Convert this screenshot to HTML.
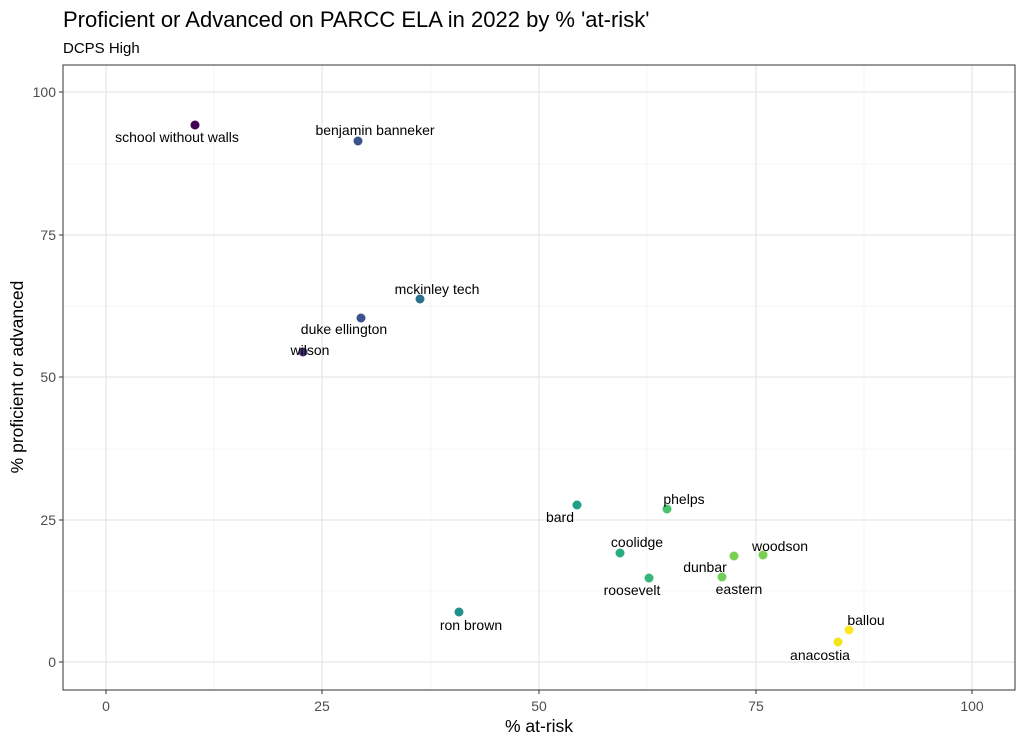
<!DOCTYPE html>
<html><head><meta charset="utf-8"><style>
body{margin:0;background:#fff;}
svg text{font-family:"Liberation Sans",Arial,sans-serif;}
</style></head><body>
<svg width="1024" height="744" viewBox="0 0 1024 744" xmlns="http://www.w3.org/2000/svg">
<rect width="1024" height="744" fill="#fff"/>
<text x="63" y="27" font-size="22" fill="#000">Proficient or Advanced on PARCC ELA in 2022 by % 'at-risk'</text>
<text x="63" y="53" font-size="15" fill="#000">DCPS High</text>
<g stroke="#f0f0f0" stroke-width="0.7">
<line x1="63" x2="1015" y1="591" y2="591"/>
<line x1="63" x2="1015" y1="449" y2="449"/>
<line x1="63" x2="1015" y1="306" y2="306"/>
<line x1="63" x2="1015" y1="164" y2="164"/>
<line y1="65" y2="690" x1="214" x2="214"/>
<line y1="65" y2="690" x1="431" x2="431"/>
<line y1="65" y2="690" x1="647" x2="647"/>
<line y1="65" y2="690" x1="864" x2="864"/>
</g>
<g stroke="#e6e6e6" stroke-width="1.2">
<line x1="63" x2="1015" y1="662" y2="662"/>
<line x1="63" x2="1015" y1="520" y2="520"/>
<line x1="63" x2="1015" y1="377" y2="377"/>
<line x1="63" x2="1015" y1="235" y2="235"/>
<line x1="63" x2="1015" y1="92" y2="92"/>
<line y1="65" y2="690" x1="106" x2="106"/>
<line y1="65" y2="690" x1="322" x2="322"/>
<line y1="65" y2="690" x1="539" x2="539"/>
<line y1="65" y2="690" x1="756" x2="756"/>
<line y1="65" y2="690" x1="972" x2="972"/>
</g>
<rect x="63" y="65" width="952" height="625" fill="none" stroke="#333" stroke-width="1"/>
<g stroke="#333"><line x1="59" x2="63" y1="662" y2="662"/><line x1="59" x2="63" y1="520" y2="520"/><line x1="59" x2="63" y1="377" y2="377"/><line x1="59" x2="63" y1="235" y2="235"/><line x1="59" x2="63" y1="92" y2="92"/>
<line y1="690" y2="694" x1="106" x2="106"/><line y1="690" y2="694" x1="322" x2="322"/><line y1="690" y2="694" x1="539" x2="539"/><line y1="690" y2="694" x1="756" x2="756"/><line y1="690" y2="694" x1="972" x2="972"/></g>
<g font-size="14" fill="#4d4d4d" text-anchor="end">
<text x="56" y="667">0</text><text x="56" y="525">25</text><text x="56" y="382">50</text><text x="56" y="240">75</text><text x="56" y="97">100</text></g>
<g font-size="14" fill="#4d4d4d" text-anchor="middle">
<text x="106" y="711">0</text><text x="322" y="711">25</text><text x="539" y="711">50</text><text x="756" y="711">75</text><text x="972" y="711">100</text></g>
<text x="539" y="732" font-size="17.5" text-anchor="middle">% at-risk</text>
<text transform="translate(23,377) rotate(-90)" font-size="17.5" text-anchor="middle">% proficient or advanced</text>
<g>
<circle cx="195" cy="125" r="4.5" fill="#440154"/>
<circle cx="358" cy="141" r="4.5" fill="#3b528b"/>
<circle cx="420" cy="299" r="4.5" fill="#2c728e"/>
<circle cx="361" cy="318" r="4.5" fill="#3b528b"/>
<circle cx="303" cy="352" r="4.5" fill="#472d7b"/>
<circle cx="577" cy="505" r="4.5" fill="#1fa187"/>
<circle cx="667" cy="509" r="4.5" fill="#4ac16d"/>
<circle cx="620" cy="553" r="4.5" fill="#27ad81"/>
<circle cx="649" cy="578" r="4.5" fill="#35b779"/>
<circle cx="459" cy="612" r="4.5" fill="#21908d"/>
<circle cx="734" cy="556" r="4.5" fill="#7ad151"/>
<circle cx="763" cy="555" r="4.5" fill="#7ad151"/>
<circle cx="722" cy="577" r="4.5" fill="#6ece58"/>
<circle cx="849" cy="630" r="4.5" fill="#fde725"/>
<circle cx="838" cy="642" r="4.5" fill="#f1e51d"/>
</g>
<g font-size="14" fill="#000">
<text x="177" y="142" text-anchor="middle">school without walls</text>
<text x="375" y="135" text-anchor="middle">benjamin banneker</text>
<text x="437" y="294" text-anchor="middle">mckinley tech</text>
<text x="344" y="334" text-anchor="middle">duke ellington</text>
<text x="310" y="355" text-anchor="middle">wilson</text>
<text x="560" y="522" text-anchor="middle">bard</text>
<text x="684" y="504" text-anchor="middle">phelps</text>
<text x="637" y="547" text-anchor="middle">coolidge</text>
<text x="632" y="595" text-anchor="middle">roosevelt</text>
<text x="471" y="630" text-anchor="middle">ron brown</text>
<text x="705" y="572" text-anchor="middle">dunbar</text>
<text x="780" y="551" text-anchor="middle">woodson</text>
<text x="739" y="594" text-anchor="middle">eastern</text>
<text x="866" y="625" text-anchor="middle">ballou</text>
<text x="820" y="660" text-anchor="middle">anacostia</text>
</g>
</svg>
</body></html>
